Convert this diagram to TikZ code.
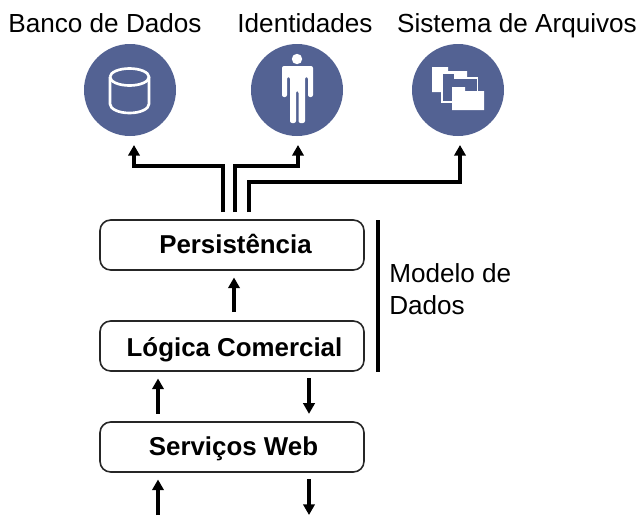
\documentclass[tikz,border=0pt]{standalone}
\usepackage{fontspec}
\setmainfont{Liberation Sans}
\usetikzlibrary{arrows.meta}
\definecolor{discblue}{RGB}{83,98,147}
\tikzset{
	layer/.style = {draw=black!85, line width=1.2pt, rounded corners=8pt, minimum width=198pt, minimum height=37.5pt, inner sep=0pt, text height=12pt, text depth=0pt, font=\fontsize{19.4}{22}\selectfont\bfseries},
	disc/.style = {circle, fill=discblue, minimum size=69pt, inner sep=0pt},
	title/.style = {font=\fontsize{19.6}{22}\selectfont, inner sep=0pt, text height=12pt, text depth=0pt},
	conn/.style = {line width=2.7pt, -{Triangle[width=8.5pt,length=8pt]}},
	wire/.style = {line width=2.7pt}
}
\begin{document}
\begin{tikzpicture}[x=0.75pt, y=-0.75pt]
	\useasboundingbox (0, 0) rectangle (638, 515);
	% sources at the top
	\node[disc] (db) at (130, 90){};
	\node[disc] (id) at (297, 90){};
	\node[disc] (fs) at (458, 90){};
	\node[title] (dbtitle) at (105, 24){Banco de Dados};
	\node[title] (idtitle) at (305, 24){Identidades};
	\node[title] (fstitle) at (517, 24){Sistema de Arquivos};
	% layers
	\node[layer] (persist) at (232, 245){\hspace*{5.2pt}Persistência};
	\node[layer] (logic) at (232, 346){\hspace*{3.75pt}\raisebox{-2.2pt}{Lógica Comercial}};
	\node[layer] (web) at (232, 447){\hspace*{2.25pt}Serviços Web};
	% database icon
	\draw[white, line width=2pt] (110, 77) arc[start angle=180, end angle=-180, x radius=19.5, y radius=8.5];
	\draw[white, line width=2pt] (110, 77) -- (110, 104) arc[start angle=180, end angle=0, x radius=19.5, y radius=9] -- (149, 77);
	% person icon
	\fill[white] (297, 59) circle[radius=5.2];
	\fill[white, rounded corners=1.5pt] (282, 97) -- (282, 66) -- (313, 66) -- (313, 97) -- (308, 97) -- (308, 77) -- (305, 77) -- (305, 123) -- (298.5, 123) -- (298.5, 91) -- (296, 91) -- (296, 123) -- (290, 123) -- (290, 77) -- (287, 77) -- (287, 97) -- cycle;
	% folder icon
	\fill[white] (432, 67) -- (448, 67) -- (448, 71) -- (467, 71) -- (467, 80) -- (441, 80) -- (441, 92) -- (432, 92) -- cycle;
	\filldraw[draw=white, fill=discblue, line width=0.9pt] (442, 73) -- (455, 73) -- (455, 78) -- (477.5, 78) -- (477.5, 102) -- (442, 102) -- cycle;
	\fill[white] (452, 87) -- (465, 87) -- (465, 91) -- (484, 91) -- (484, 110) -- (452, 110) -- cycle;
	% wires from the persistence layer
	\coordinate (dbout) at (223, 212);
	\coordinate (idout) at (235, 212);
	\coordinate (fsout) at (249, 212);
	\coordinate (dbin) at (134, 145);
	\coordinate (idin) at (298, 145);
	\coordinate (fsin) at (460, 145);
	\draw[conn] (dbout) |- (134, 166) -- (dbin);
	\draw[conn] (idout) |- (298, 166) -- (idin);
	\draw[conn] (fsout) |- (460, 182) -- (fsin);
	% arrows between the layers
	\draw[conn, shorten <=6pt, shorten >=5pt] ([xshift=1.5pt]logic.north) -- ([xshift=1.5pt]persist.south);
	\draw[conn, shorten <=5.5pt, shorten >=5pt] ([xshift=-55.5pt]web.north) -- ([xshift=-55.5pt]logic.south);
	\draw[conn, shorten <=5pt, shorten >=5.5pt] ([xshift=57.75pt]logic.south) -- ([xshift=57.75pt]web.north);
	\coordinate (webin) at (158, 515);
	\coordinate (webout) at (309, 515);
	\draw[conn, shorten >=5pt] (webin) -- (webin |- web.south);
	\draw[conn, shorten <=5pt] (webout |- web.south) -- (webout);
	% data model bracket
	\coordinate (modeltop) at (378, 220);
	\coordinate (modelend) at (378, 372);
	\draw[wire] (modeltop) -- (modelend);
	\node[title, anchor=west] (model1) at (389, 274){Modelo de};
	\node[title, anchor=west] (model2) at (389, 306){Dados};
\end{tikzpicture}
\end{document}
